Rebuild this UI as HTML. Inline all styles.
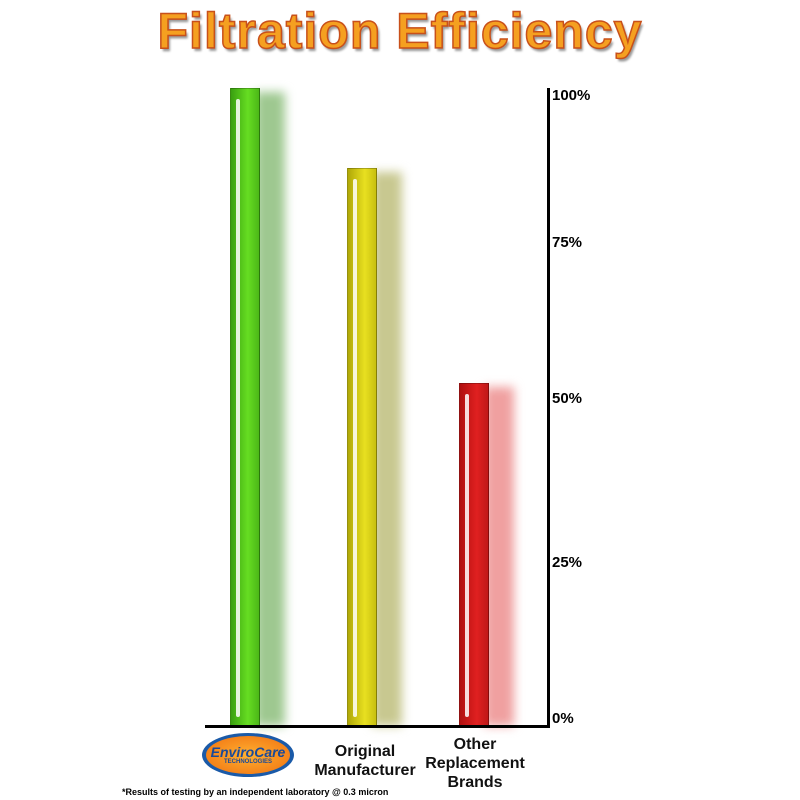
<!DOCTYPE html><html><head><style>
body{margin:0;width:800px;height:800px;background:#fff;position:relative;overflow:hidden;font-family:"Liberation Sans",Arial,sans-serif}
.a{position:absolute}
.t{left:0;width:800px;top:2px;text-align:center;font-size:50px;font-weight:bold;color:#f5a020;-webkit-text-stroke:1.5px #c8501a;text-shadow:2px 3px 2px #999;letter-spacing:1px}
.bar{position:absolute;width:30px;box-sizing:border-box;border:1px solid rgba(0,0,0,.25)}
.sh{position:absolute;width:30px;filter:blur(5px)}
.hl{position:absolute;left:5px;top:10px;bottom:8px;width:4px;border-radius:2px;background:rgba(255,255,255,.85)}
.lab{font-size:16px;font-weight:bold;color:#111;text-align:center}
.y{font-size:15px;font-weight:bold;left:552px}
</style></head><body>
<div class="a t">Filtration Efficiency</div>
<div class="sh" style="left:255px;top:92px;height:634px;background:#9ec890"></div>
<div class="bar" style="left:230px;top:88px;height:638px;background:linear-gradient(90deg,#3aa010,#66dd22 60%,#4cb818)"><div class="hl"></div></div>
<div class="sh" style="left:372px;top:172px;height:554px;background:#c8c890"></div>
<div class="bar" style="left:347px;top:168px;height:558px;background:linear-gradient(90deg,#b0a808,#e8e020 60%,#c8c010)"><div class="hl"></div></div>
<div class="sh" style="left:484px;top:387px;height:339px;background:#f0a0a0"></div>
<div class="bar" style="left:459px;top:383px;height:343px;background:linear-gradient(90deg,#b01010,#e02020 60%,#c01818)"><div class="hl"></div></div>
<div class="a" style="left:205px;top:725px;width:345px;height:3px;background:#000"></div>
<div class="a" style="left:547px;top:88px;width:3px;height:640px;background:#000"></div>
<div class="a y" style="top:87px">100%</div>
<div class="a y" style="top:234px">75%</div>
<div class="a y" style="top:390px">50%</div>
<div class="a y" style="top:554px">25%</div>
<div class="a y" style="top:710px">0%</div>
<div class="a" style="left:202px;top:733px;width:92px;height:44px;border-radius:50%;background:#1a5aa8"><div style="position:absolute;left:4px;top:3px;right:4px;bottom:3px;border-radius:50%;background:radial-gradient(#ffb030,#f07010)"></div>
<div style="position:absolute;left:0;width:92px;top:11px;text-align:center;font-size:14px;font-weight:bold;font-style:italic;color:#1a4a9a">EnviroCare</div>
<div style="position:absolute;left:0;width:92px;top:26px;text-align:center;font-size:6px;font-weight:bold;color:#1a4a9a">TECHNOLOGIES</div></div>
<div class="a lab" style="left:300px;width:130px;top:742px;line-height:19px">Original<br>Manufacturer</div>
<div class="a lab" style="left:410px;width:130px;top:735px;line-height:19px">Other<br>Replacement<br>Brands</div>
<div class="a" style="left:122px;top:787px;font-size:9px;font-weight:bold">*Results of testing by an independent laboratory @ 0.3 micron</div>
</body></html>
